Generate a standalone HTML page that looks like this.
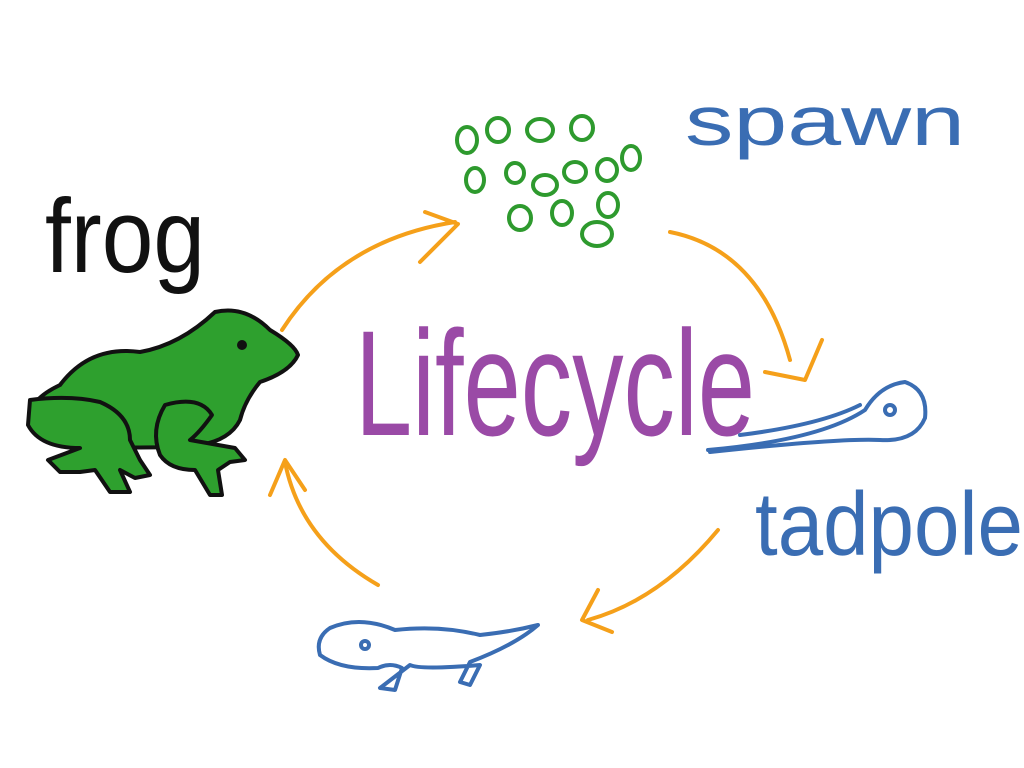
<!DOCTYPE html>
<html><head><meta charset="utf-8"><style>
html,body{margin:0;padding:0;background:#fff;}
svg{display:block}
text{font-family:"Liberation Sans",sans-serif;}
</style></head><body>
<svg width="1024" height="768" viewBox="0 0 1024 768" xmlns="http://www.w3.org/2000/svg">
<rect width="1024" height="768" fill="#fff"/>
<text x="45" y="272" font-size="105" fill="#111" textLength="160" lengthAdjust="spacingAndGlyphs">frog</text>
<text x="685" y="145" font-size="70" fill="#3a6db3" textLength="280" lengthAdjust="spacingAndGlyphs">spawn</text>
<text x="355" y="435" font-size="150" fill="#9a4aa6" textLength="400" lengthAdjust="spacingAndGlyphs">Lifecycle</text>
<text x="755" y="555" font-size="90" fill="#3a6db3" textLength="268" lengthAdjust="spacingAndGlyphs">tadpole</text>

<g fill="none" stroke="#2e9a2e" stroke-width="4">
<ellipse cx="467" cy="140" rx="10" ry="13"/>
<ellipse cx="498" cy="130" rx="11" ry="12"/>
<ellipse cx="540" cy="130" rx="13" ry="11"/>
<ellipse cx="582" cy="128" rx="11" ry="12"/>
<ellipse cx="475" cy="180" rx="9" ry="12"/>
<ellipse cx="515" cy="173" rx="9" ry="10"/>
<ellipse cx="545" cy="185" rx="12" ry="10"/>
<ellipse cx="575" cy="172" rx="11" ry="10"/>
<ellipse cx="607" cy="170" rx="10" ry="11"/>
<ellipse cx="631" cy="158" rx="9" ry="12"/>
<ellipse cx="520" cy="218" rx="11" ry="12"/>
<ellipse cx="562" cy="213" rx="10" ry="12"/>
<ellipse cx="608" cy="205" rx="10" ry="12"/>
<ellipse cx="597" cy="234" rx="15" ry="12"/>
</g>

<g fill="none" stroke="#f5a01a" stroke-width="4" stroke-linecap="round" stroke-linejoin="round">
<path d="M282 330 Q340 240 455 222"/>
<path d="M425 212 L458 224 L420 262"/>
<path d="M670 232 Q760 250 790 360"/>
<path d="M765 372 L805 380 L822 340"/>
<path d="M718 530 Q660 600 588 620"/>
<path d="M598 590 L582 620 L612 632"/>
<path d="M378 585 Q300 540 285 462"/>
<path d="M270 495 L285 460 L305 490"/>
</g>

<g fill="none" stroke="#3a6db3" stroke-width="4" stroke-linecap="round">
<path d="M708 450 Q820 440 865 410 Q880 385 905 382 Q928 390 925 418 Q915 442 880 440 Q840 438 710 452"/>
<path d="M740 435 Q820 425 860 405"/>
<circle cx="890" cy="410" r="5"/>
</g>
<g fill="none" stroke="#3a6db3" stroke-width="4" stroke-linecap="round" stroke-linejoin="round">
<path d="M330 628 Q360 615 395 630 Q440 625 480 635 Q510 632 538 625 Q515 645 470 662 L460 682 L470 685 L480 665 Q420 670 410 665 L380 688 L395 690 L402 668 Q390 662 378 668 Q340 670 320 655 Q315 638 330 628Z"/>
<circle cx="365" cy="645" r="4"/>
</g>

<g stroke="#111" stroke-width="4" stroke-linejoin="round" stroke-linecap="round" fill="#2ea02e">
<path d="M60 385 Q90 345 140 352 Q180 345 215 312 Q245 305 270 330 Q295 345 298 355 Q290 372 260 382 Q245 400 240 420 Q230 440 200 445 Q140 450 80 445 Q40 440 30 420 Q28 400 60 385Z"/>
<path d="M30 400 Q70 395 100 402 Q130 415 130 440 L140 460 L150 475 L135 478 L120 470 L130 492 L110 492 L95 470 L80 472 L60 472 L48 460 L80 448 Q40 448 28 425Z"/>
<path d="M165 405 Q200 395 212 415 Q200 432 190 440 L235 448 L245 460 L230 462 L218 470 L222 495 L210 495 L195 470 Q170 470 160 455 Q150 430 165 405Z"/>
</g>
<circle cx="242" cy="345" r="5" fill="#111"/>
</svg>
</body></html>
